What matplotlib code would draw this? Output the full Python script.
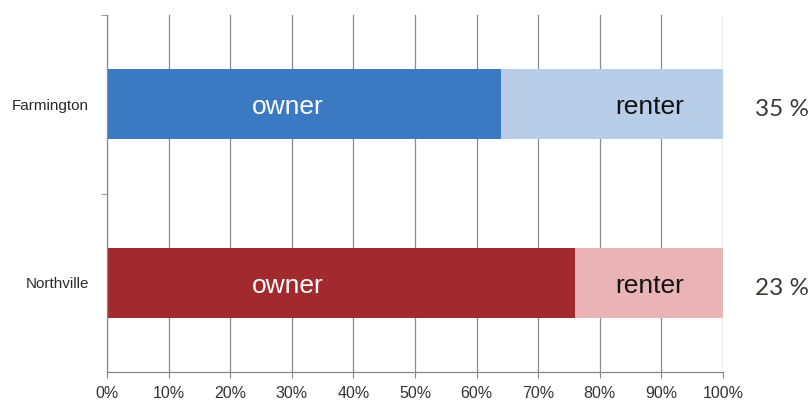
import matplotlib
matplotlib.use("Agg")
from matplotlib import pyplot as plt

# data
towns = ["Northville", "Farmington"]
owner = [76, 64]
renter = [24, 36]
renter_labels = ["23 %", "35 %"]
ticks = list(range(0, 101, 10))

owner_colors = ["#a2292d", "#3b79c3"]
renter_colors = ["#eab4b6", "#b7cde8"]

fig = plt.figure(figsize=(8.12, 4.08), dpi=100)
ax = fig.add_axes([0.1318, 0.088, 0.7586, 0.875])

ypos = list(range(len(towns)))
ax.barh(ypos, owner, height=0.393, color=owner_colors, zorder=2)
ax.barh(ypos, renter, left=owner, height=0.393, color=renter_colors, zorder=2)

for y, lab in zip(ypos, renter_labels):
    # baselines sit a little below the bar centre
    ax.annotate("owner", (29.3, y), xytext=(0, -7.2), textcoords="offset points",
                ha="center", va="baseline", color="white", fontsize=19,
                family="Liberation Sans", zorder=3)
    ax.annotate("renter", (88.1, y), xytext=(0, -7.2), textcoords="offset points",
                ha="center", va="baseline", color="#121212", fontsize=19,
                family="Liberation Sans", zorder=3)
    ax.annotate(lab, (109.5, y), xytext=(0, -8.6), textcoords="offset points",
                ha="center", va="baseline", color="#3f3636", fontsize=17.5,
                family="Lato", annotation_clip=False)

ax.set_xlim(0, 100)
ax.set_ylim(-0.5, 1.5)
ax.set_xticks(ticks)
ax.set_xticklabels([f"{t}%" for t in ticks], family="Liberation Sans",
                   fontsize=11.5, color="#333333")
ax.set_yticks(ypos)
ax.set_yticklabels(towns, family="Liberation Sans", fontsize=11, color="#2a2a2a")
ax.set_yticks([0.5, 1.5], minor=True)
ax.tick_params(axis="y", which="major", length=0, pad=13)
ax.tick_params(axis="y", which="minor", length=4, color="#888888")
ax.tick_params(axis="x", length=4, color="#888888", pad=6)

ax.xaxis.grid(True, color="#8a8a8a", linewidth=0.9, zorder=0)
ax.set_axisbelow(True)
for side in ["top", "right"]:
    ax.spines[side].set_visible(False)
for side in ["left", "bottom"]:
    ax.spines[side].set_color("#888888")
    ax.spines[side].set_linewidth(0.9)

fig.savefig("out.png", dpi=100)
